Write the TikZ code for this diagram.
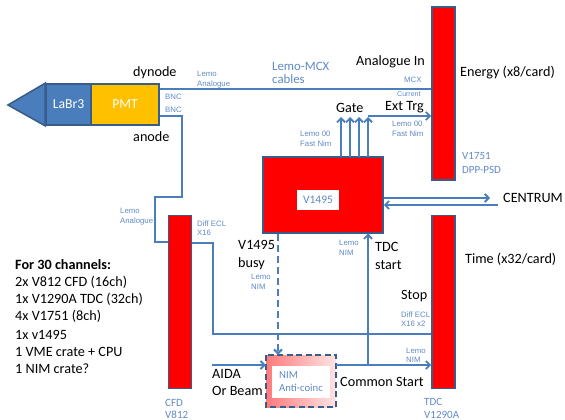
\documentclass[tikz,border=0pt]{standalone}
\usepackage{fontspec}
\setmainfont{Carlito}
\newfontfamily\smallfont{Liberation Sans}
\usetikzlibrary{arrows.meta}
\definecolor{linkblue}{HTML}{4A7DBB}
\definecolor{edgeblue}{HTML}{385D8A}
\definecolor{labelblue}{HTML}{6089C6}
\definecolor{pmtyellow}{HTML}{FFC000}
\definecolor{pinkdark}{HTML}{FF7A7A}
\definecolor{pinklight}{HTML}{FFE4E4}
\tikzset{
    module/.style={draw=edgeblue,line width=1.6pt,fill=red,inner sep=0pt},
    wire/.style={draw=linkblue,line width=1.9pt},
    sig/.style={wire,-{Straight Barb[length=4pt,width=8pt]}},
    tag/.style={font=\fontsize{14.2}{14.2}\selectfont,anchor=west,inner sep=0pt},
    note/.style={font=\smallfont\fontsize{7.8}{7.8}\selectfont,text=labelblue,anchor=west,inner sep=0pt},
    modlabel/.style={font=\fontsize{11}{11}\selectfont,text=labelblue,anchor=west,inner sep=0pt},
    item/.style={font=\fontsize{14.2}{14.2}\selectfont,anchor=west,inner sep=0pt},
}
\begin{document}
\begin{tikzpicture}[x=1pt,y=-1pt]
    \useasboundingbox (0,0) rectangle (565,420);
    % detector
    \coordinate (tip) at (8,105);
    \node[draw=edgeblue,line width=1.6pt,fill=linkblue,inner sep=0pt,minimum width=45pt,minimum height=41pt,text=white,font=\fontsize{13.7}{13.7}\selectfont] (labr) at (68.5,104.5) {LaBr3};
    \node[draw=edgeblue,line width=1.6pt,fill=pmtyellow,inner sep=0pt,minimum width=68pt,minimum height=41pt,text=white,font=\fontsize{13.7}{13.7}\selectfont] (pmt) at (125,104.5) {PMT};
    \draw[draw=edgeblue,line width=1.6pt,fill=linkblue] (tip) -- (labr.north west) -- (labr.south west) -- cycle;
    % modules
    \node[module,minimum width=23pt,minimum height=173pt] (cfd) at (180,302) {};
    \node[module,minimum width=23pt,minimum height=173pt] (qdc) at (443.5,93.5) {};
    \node[module,minimum width=23pt,minimum height=173pt] (tdc) at (443.5,302) {};
    \node[module,minimum width=120pt,minimum height=76pt] (logic) at (323,195) {};
    \node[fill=white,inner sep=0pt,minimum width=42pt,minimum height=20pt,text=labelblue,font=\fontsize{11.5}{11.5}\selectfont] (logicname) at (318,200) {V1495};
    % anti-coincidence box
    \node[shade,shading angle=135,left color=pinkdark,right color=pinklight,inner sep=0pt,minimum width=70pt,minimum height=52pt] (nim) at (301,381) {};
    \node[fill=white,inner sep=0pt,minimum width=58pt,minimum height=32pt,text=labelblue,align=left,font=\fontsize{10.7}{13}\selectfont] (nimname) at (301,381.5) {NIM\\Anti-coinc};
    \draw[edgeblue,line width=1.7pt,dash pattern=on 6pt off 3.5pt] (nim.north west) rectangle (nim.south east);
    % free ends
    \coordinate (aida) at (212,365);
    \coordinate (centrumout) at (490,198);
    \coordinate (centrumin) at (498,205);
    \coordinate (stopin) at (213,334);
    \coordinate (gatein) at (368,116);
    \coordinate (startin) at (368,365);
    % signal lines
    \draw[wire] (pmt.north east |- 0,89) -- (qdc.west |- 0,89);
    \draw[wire] (pmt.east |- 0,116) -- (182,116) -- (182,197) -- (155,197) -- (155,242) -- (cfd.west |- 0,242);
    \draw[wire] (cfd.east |- 0,243) -- (213,243) -- (stopin) -- (tdc.west |- stopin);
    \foreach \x in {341,350,359,368}
        \draw[sig] (\x,157) -- (\x,117);
    \draw[sig] (gatein) -- (qdc.west |- gatein);
    \draw[sig] (logic.east |- centrumout) -- (centrumout);
    \draw[sig] (centrumin) -- (logic.east |- centrumin);
    \draw[sig,line width=2pt,dash pattern=on 7pt off 4pt] (logic.south -| 278,0) -- (nim.north -| 278,0);
    \draw[sig] (aida) -- (nim.west |- aida);
    \draw[sig] (nim.east |- aida) -- (tdc.west |- aida);
    \draw[sig] (startin) -- (368,233.5);
    % black labels
    \node[tag] (dyn) at (133,73) {dynode};
    \node[tag] (ano) at (133,137) {anode};
    \node[tag] (ain) at (356,62) {Analogue In};
    \node[tag] (gate) at (336,108) {Gate};
    \node[tag] (trg) at (385,107) {Ext Trg};
    \node[tag] (energy) at (460,73) {Energy (x8/card)};
    \node[tag] (centrum) at (503,198) {CENTRUM};
    \node[tag] (time) at (465,259) {Time (x32/card)};
    \node[tag] (tdcs) at (375,247) {TDC};
    \node[tag] (tdct) at (375,265) {start};
    \node[tag] (stop) at (401,296) {Stop};
    \node[tag] (comm) at (340,382) {Common Start};
    \node[tag] (busya) at (238,245) {V1495};
    \node[tag] (busyb) at (238,264) {busy};
    \node[tag] (aidaa) at (212,374) {AIDA};
    \node[tag] (aidab) at (212,391) {Or Beam};
    % blue labels
    \node[note] (n1) at (197,74) {Lemo};
    \node[note] (n2) at (197,84) {Analogue};
    \node[note] (n3) at (165,97) {BNC};
    \node[note] (n4) at (165,110) {BNC};
    \node[note] (n5) at (120,211) {Lemo};
    \node[note] (n6) at (120,221) {Analogue};
    \node[note] (n7) at (197,224) {Diff ECL};
    \node[note] (n8) at (197,233) {X16};
    \node[note] (n9) at (404,80) {MCX};
    \node[note,font=\smallfont\fontsize{7}{7}\selectfont] (n10) at (397,94) {Current};
    \node[note] (n11) at (392,124) {Lemo 00};
    \node[note] (n12) at (392,134) {Fast Nim};
    \node[note] (n13) at (300,134) {Lemo 00};
    \node[note] (n14) at (300,144) {Fast Nim};
    \node[note] (n15) at (339,243) {Lemo};
    \node[note] (n16) at (339,253) {NIM};
    \node[note] (n17) at (251,277) {Lemo};
    \node[note] (n18) at (251,287) {NIM};
    \node[note] (n19) at (401,315) {Diff ECL};
    \node[note] (n20) at (401,324) {X16 x2};
    \node[note] (n21) at (406,351) {Lemo};
    \node[note] (n22) at (406,360) {NIM};
    \node[modlabel,font=\fontsize{12.8}{12.8}\selectfont] (c1) at (272,66) {Lemo-MCX};
    \node[modlabel,font=\fontsize{12.8}{12.8}\selectfont] (c2) at (272,79) {cables};
    \node[modlabel] (q1) at (462,156) {V1751};
    \node[modlabel] (q2) at (462,170) {DPP-PSD};
    \node[modlabel] (t1) at (424,401.5) {TDC};
    \node[modlabel] (t2) at (424,414.5) {V1290A};
    \node[modlabel] (f1) at (165,403) {CFD};
    \node[modlabel] (f2) at (165,415) {V812};
    % parts list
    \node[item,font=\bfseries\fontsize{14.2}{14.2}\selectfont] (l0) at (15,265) {For 30 channels:};
    \node[item] (l1) at (15,282) {2x V812 CFD (16ch)};
    \node[item] (l2) at (15,299) {1x V1290A TDC (32ch)};
    \node[item] (l3) at (15,316) {4x V1751 (8ch)};
    \node[item] (l4) at (15,335) {1x v1495};
    \node[item] (l5) at (15,352) {1 VME crate + CPU};
    \node[item] (l6) at (15,369) {1 NIM crate?};
\end{tikzpicture}
\end{document}
